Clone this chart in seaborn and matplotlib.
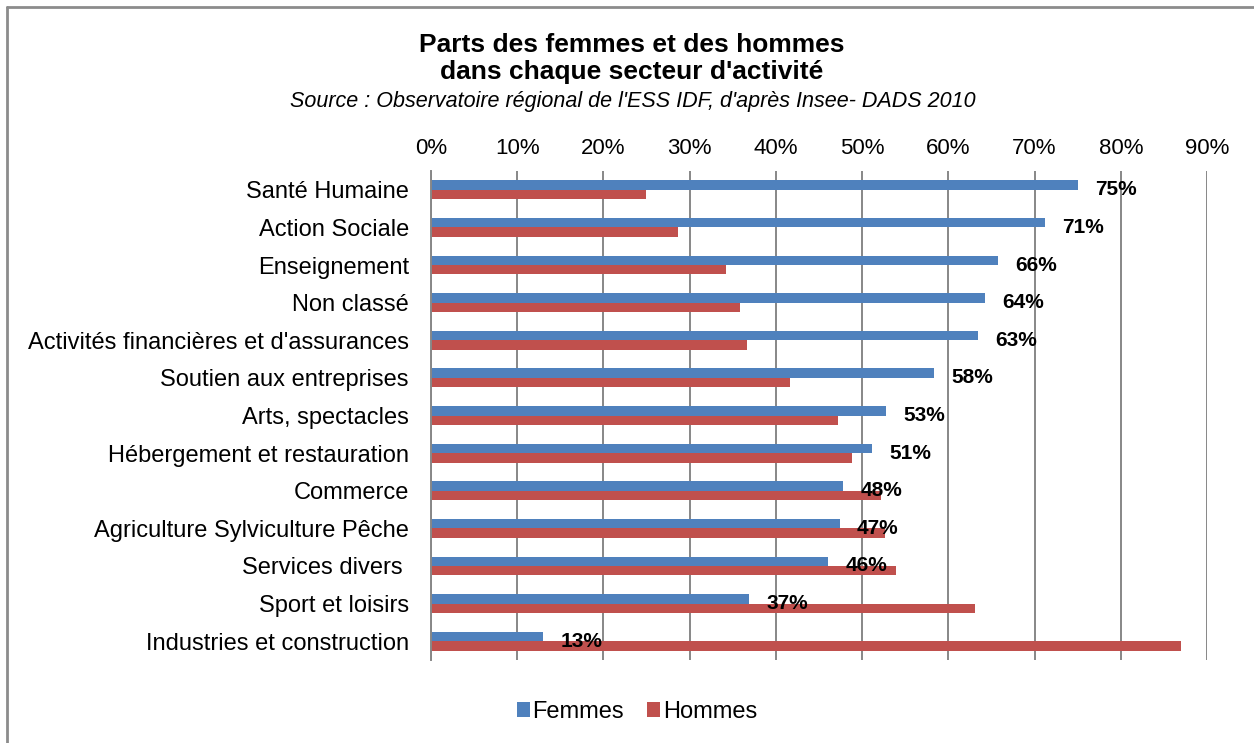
import seaborn as sns
import matplotlib.pyplot as plt
import pandas as pd

secteurs = ['Santé Humaine', 'Action Sociale', 'Enseignement', 'Non classé',
            "Activités financières et d'assurances", 'Soutien aux entreprises',
            'Arts, spectacles', 'Hébergement et restauration', 'Commerce',
            'Agriculture Sylviculture Pêche', 'Services divers ', 'Sport et loisirs',
            'Industries et construction']
femmes = [75.0, 71.2, 65.8, 64.2, 63.4, 58.3, 52.8, 51.2, 47.8, 47.4, 46.1, 36.9, 13.0]
hommes = [24.9, 28.7, 34.2, 35.8, 36.6, 41.6, 47.2, 48.8, 52.2, 52.6, 53.9, 63.1, 87.0]
ticks = list(range(0, 91, 10))

df = pd.DataFrame({
    'Secteur': secteurs * 2,
    'Part': femmes + hommes,
    'Sexe': ['Femmes'] * len(secteurs) + ['Hommes'] * len(secteurs),
})

sns.set_style('white')
plt.rcParams['font.family'] = ['Liberation Sans', 'DejaVu Sans']
plt.rcParams['text.color'] = 'black'
plt.rcParams['xtick.color'] = 'black'
plt.rcParams['ytick.color'] = 'black'

fig = plt.figure(figsize=(12.54, 7.43), dpi=100)
ax = fig.add_axes([431 / 1254, 83 / 743, 776 / 1254, 489 / 743])
sns.barplot(data=df, y='Secteur', x='Part', hue='Sexe', orient='h',
            palette=['#4F81BD', '#C0504D'], saturation=1, width=0.5,
            linewidth=0, ax=ax)

ax.set_xlim(0, 90)
ax.set_ylim(12.5, -0.5)
ax.xaxis.set_ticks_position('top')
ax.set_xticks(ticks)
ax.set_xticklabels([f'{t}%' for t in ticks], fontsize=16)
ax.tick_params(axis='x', length=0, pad=9)
ax.tick_params(axis='y', length=0, pad=16, labelsize=17)
ax.set_xlabel('')
ax.set_ylabel('')
ax.grid(axis='x', color='#878787', lw=1.4)
ax.set_axisbelow(True)
for s in ['top', 'right', 'bottom']:
    ax.spines[s].set_visible(False)
ax.spines['left'].set_color('#878787')
ax.spines['left'].set_linewidth(1.4)

for i, v in enumerate(femmes):
    ax.text(v + 2.0, i, f'{v:.0f}%', va='center', ha='left',
            fontsize=15, fontweight='bold')

handles, labels = ax.get_legend_handles_labels()
ax.get_legend().remove()
fig.legend(handles, labels, loc='center', bbox_to_anchor=(637 / 1254, 1 - 712 / 743),
           ncol=2, frameon=False, fontsize=17, handlelength=0.55, handleheight=0.6,
           handletextpad=0.1, columnspacing=1.0)

fig.text(632 / 1254, 1 - 45 / 743, 'Parts des femmes et des hommes',
         ha='center', va='center', fontsize=19, fontweight='bold')
fig.text(632 / 1254, 1 - 72 / 743, "dans chaque secteur d'activité",
         ha='center', va='center', fontsize=19, fontweight='bold')
fig.text(633 / 1254, 1 - 101 / 743,
         "Source : Observatoire régional de l'ESS IDF, d'après Insee- DADS 2010",
         ha='center', va='center', fontsize=15.5, style='italic')

# cadre gris du graphique
fig.add_artist(plt.Line2D([7 / 1254, 1], [1 - 7 / 743] * 2, color='#8c8c8c', lw=2,
                          transform=fig.transFigure))
fig.add_artist(plt.Line2D([7 / 1254] * 2, [0, 1 - 7 / 743], color='#8c8c8c', lw=2,
                          transform=fig.transFigure))

fig.savefig('out.png', dpi=100)
